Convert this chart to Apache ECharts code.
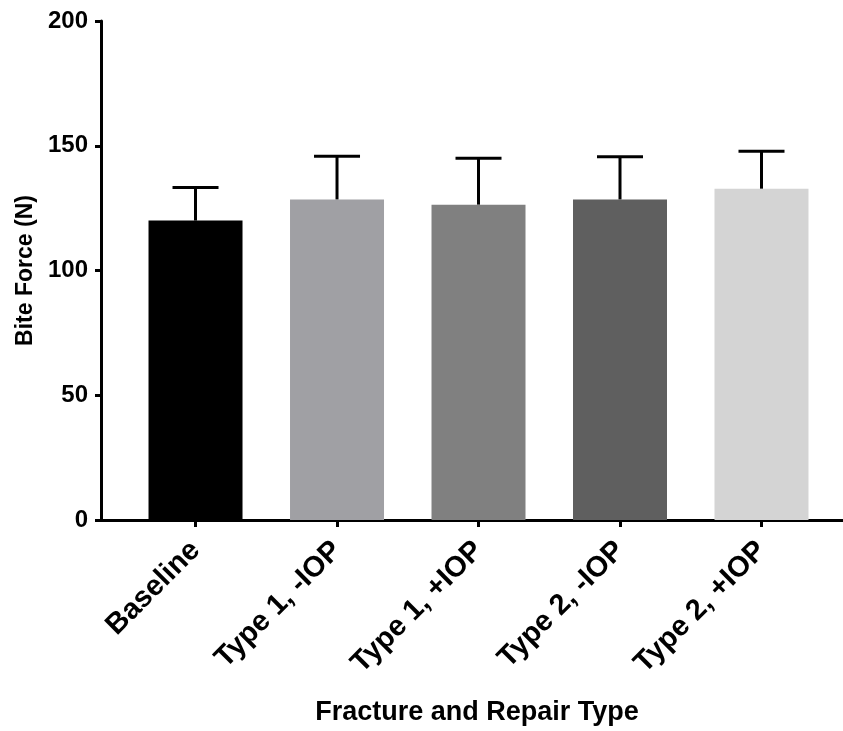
<!DOCTYPE html>
<html>
<head>
<meta charset="utf-8">
<script src="https://cdn.jsdelivr.net/npm/echarts@6/dist/echarts.min.js"></script>
<style>
  html, body { margin: 0; padding: 0; background: #fff; }
  #chart { width: 843px; height: 731px; }
</style>
</head>
<body>
<div id="chart"></div>
<script>
// Bite force by fracture / repair group: mean with upper SD whisker
var categories = ['Baseline', 'Type 1, -IOP', 'Type 1, +IOP', 'Type 2, -IOP', 'Type 2, +IOP'];
var means = [120, 128.5, 126.4, 128.5, 132.8];
var upperErr = [133.3, 145.8, 145.0, 145.6, 147.8];
var barColors = ['#000000', '#a0a0a4', '#808080', '#5f5f5f', '#d4d4d4'];
var yTicks = [0, 50, 100, 150, 200];

var FONT = '"Liberation Sans", Arial, sans-serif';
var positions = categories.map(function (_, i) { return i; });

var barData = means.map(function (v, i) {
  return { value: [i, v], itemStyle: { color: barColors[i] } };
});
var errData = means.map(function (v, i) { return [i, v, upperErr[i]]; });

var chart = echarts.init(document.getElementById('chart'), null, { renderer: 'canvas' });

chart.setOption({
  animation: false,
  backgroundColor: '#ffffff',
  grid: { left: 101, right: 0, top: 21, bottom: 207, containLabel: false },
  xAxis: {
    type: 'value',
    min: -0.668,
    max: 4.576,
    name: 'Fracture and Repair Type',
    nameLocation: 'middle',
    nameGap: 179,
    nameTextStyle: { fontFamily: FONT, fontWeight: 'bold', fontSize: 27, color: '#000', padding: [0, 0, 0, 10] },
    splitLine: { show: false },
    axisLine: { show: true, onZero: false, lineStyle: { color: '#000', width: 3 } },
    axisTick: { show: true, customValues: positions, length: 7, lineStyle: { color: '#000', width: 3 } },
    axisLabel: {
      customValues: positions,
      rotate: 45,
      margin: 26,
      fontFamily: FONT,
      fontWeight: 'bold',
      fontSize: 29,
      color: '#000',
      formatter: function (v) { return categories[Math.round(v)]; }
    }
  },
  yAxis: {
    type: 'value',
    min: 0,
    max: 200,
    interval: 50,
    name: 'Bite Force (N)',
    nameLocation: 'middle',
    nameGap: 64,
    nameTextStyle: { fontFamily: FONT, fontWeight: 'bold', fontSize: 23, color: '#000' },
    splitLine: { show: false },
    axisLine: { show: true, onZero: false, lineStyle: { color: '#000', width: 3 } },
    axisTick: { show: true, length: 6, lineStyle: { color: '#000', width: 3 } },
    axisLabel: {
      margin: 13,
      fontFamily: FONT,
      fontWeight: 'bold',
      fontSize: 24,
      color: '#000',
      customValues: yTicks
    }
  },
  series: [
    {
      type: 'bar',
      barWidth: 94,
      data: barData,
      z: 2
    },
    {
      type: 'custom',
      z: 3,
      data: errData,
      renderItem: function (params, api) {
        var x = api.value(0);
        var base = api.coord([x, api.value(1)]);
        var top = api.coord([x, api.value(2)]);
        var half = 23;
        var style = { stroke: '#000', lineWidth: 3 };
        return {
          type: 'group',
          children: [
            { type: 'line', shape: { x1: base[0], y1: base[1], x2: top[0], y2: top[1] }, style: style },
            { type: 'line', shape: { x1: top[0] - half, y1: top[1], x2: top[0] + half, y2: top[1] }, style: style }
          ]
        };
      }
    }
  ]
});
</script>
</body>
</html>
